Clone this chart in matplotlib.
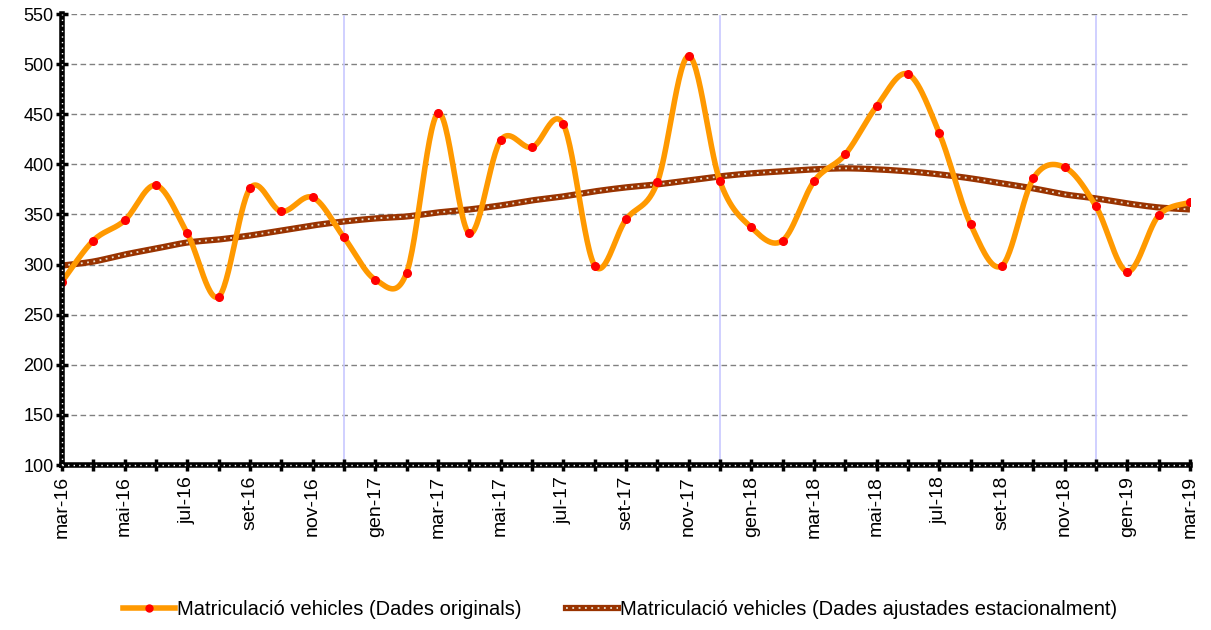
import numpy as np
import matplotlib
matplotlib.use("Agg")
import matplotlib.pyplot as plt
from matplotlib.lines import Line2D
from matplotlib.legend_handler import HandlerTuple

plt.rcParams['font.family'] = ['Liberation Sans', 'DejaVu Sans']

months = ['mar-16', 'abr-16', 'mai-16', 'jun-16', 'jul-16', 'ago-16', 'set-16', 'oct-16', 'nov-16', 'des-16',
          'gen-17', 'feb-17', 'mar-17', 'abr-17', 'mai-17', 'jun-17', 'jul-17', 'ago-17', 'set-17', 'oct-17',
          'nov-17', 'des-17', 'gen-18', 'feb-18', 'mar-18', 'abr-18', 'mai-18', 'jun-18', 'jul-18', 'ago-18',
          'set-18', 'oct-18', 'nov-18', 'des-18', 'gen-19', 'feb-19', 'mar-19']

originals = [283, 324, 344, 379, 331, 268, 376, 353, 367, 327,
             285, 292, 451, 331, 424, 417, 440, 299, 345, 382,
             508, 383, 337, 324, 383, 410, 458, 490, 431, 340,
             299, 386, 397, 358, 293, 349, 362]

ajustades = [299, 303, 310, 316, 322, 325, 329, 334, 339, 343,
             346, 348, 352, 355, 359, 364, 368, 373, 377, 380,
             384, 388, 391, 393, 395, 396, 395, 393, 390, 386,
             381, 376, 370, 366, 361, 357, 355]

year_marks = ['des-16', 'des-17', 'des-18']

label_orig = 'Matriculació vehicles (Dades originals)'
label_adj = 'Matriculació vehicles (Dades ajustades estacionalment)'


def smooth(y, n=30):
    """Catmull-Rom style Bezier smoothing (like Excel's smoothed line)."""
    x = np.arange(len(y), dtype=float)
    y = np.asarray(y, dtype=float)
    P = np.column_stack([x, y])
    P = np.vstack([P[0], P, P[-1]])
    out = []
    t = np.linspace(0, 1, n)[:, None]
    for i in range(1, len(P) - 2):
        p0, p1, p2, p3 = P[i - 1], P[i], P[i + 1], P[i + 2]
        b1 = p1 + (p2 - p0) / 6.0
        b2 = p2 - (p3 - p1) / 6.0
        seg = ((1 - t) ** 3) * p1 + 3 * ((1 - t) ** 2) * t * b1 + 3 * (1 - t) * t ** 2 * b2 + t ** 3 * p2
        out.append(seg if i == 1 else seg[1:])
    out = np.vstack(out)
    return out[:, 0], out[:, 1]


fig = plt.figure(figsize=(12.11, 6.30), dpi=100)
ax = fig.add_axes([62 / 1211, 1 - 465 / 630, (1190 - 62) / 1211, (465 - 14) / 630])

xi = np.arange(len(months))

# grid
for v in range(150, 551, 50):
    ax.axhline(v, color='#808080', lw=1, ls=(0, (4, 2.5)), zorder=1)
for m in year_marks:
    ax.axvline(months.index(m), ymax=0.995, color='#C8C8FF', lw=1.2, zorder=1)

# seasonally adjusted
sx, sy = smooth(ajustades)
ax.plot(sx, sy, color='#993300', lw=4.5, solid_capstyle='butt', zorder=3)
ax.plot(sx, sy, color='#E8E0D0', lw=1.3, ls=(0, (1, 2.5)), zorder=4)

# originals
ox, oy = smooth(originals)
ax.plot(ox, oy, color='#FF9900', lw=4, zorder=5, solid_capstyle='round')
ax.plot(xi, originals, ls='none', marker='o', ms=5.5, color='#FF0000', zorder=6)

ax.set_xlim(0, len(months) - 1)
ax.set_ylim(100, 550)
ax.set_yticks(range(100, 551, 50))
ax.set_xticks(xi)
ax.set_xticklabels([m if i % 2 == 0 else '' for i, m in enumerate(months)], rotation=90, fontsize=14)
ax.tick_params(axis='y', labelsize=13, direction='inout', length=8, width=2.5, pad=2)
ax.tick_params(axis='x', direction='inout', length=8, width=2.5, pad=4)

for s in ['top', 'right']:
    ax.spines[s].set_visible(False)
for s in ['left', 'bottom']:
    ax.spines[s].set_linewidth(4)
    ax.spines[s].set_color('black')
    ax.spines[s].set_zorder(7)
# white dotted overlay on axes
ax.plot([0, len(months) - 1], [100, 100], color='white', lw=1, ls=(0, (1, 3)), zorder=8, clip_on=False)
ax.plot([0, 0], [100, 550], color='white', lw=1, ls=(0, (1, 3)), zorder=8, clip_on=False)

h1 = Line2D([], [], color='#FF9900', lw=4, marker='o', mfc='#FF0000', mec='#FF0000', ms=5)
h2a = Line2D([], [], color='#993300', lw=4.5)
h2b = Line2D([], [], color='#E8E0D0', lw=1.3, ls=(0, (1, 2.5)))
fig.legend([h1, (h2a, h2b)], [label_orig, label_adj], loc='center', bbox_to_anchor=(0.512, 0.032),
           ncol=2, frameon=False, fontsize=14.5, handlelength=2.6, handletextpad=0.1, columnspacing=2.2,
           handler_map={tuple: HandlerTuple(ndivide=1, pad=0)}, numpoints=1)

fig.savefig('out.png', dpi=100)
